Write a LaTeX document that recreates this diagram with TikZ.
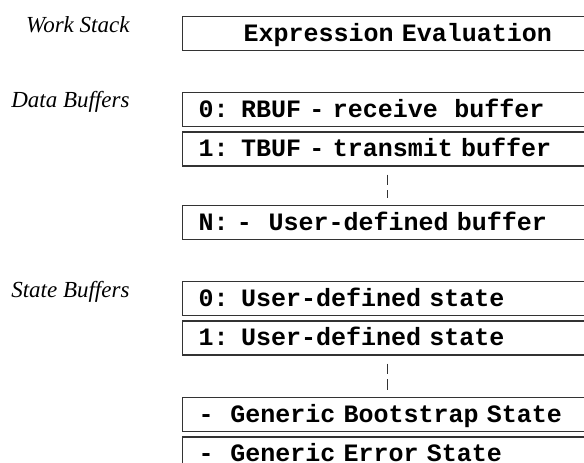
\documentclass[tikz,border=0pt]{standalone}
\usepackage{fontspec}
\setmainfont{Liberation Serif}
\setmonofont{Liberation Mono}
\usetikzlibrary{positioning}
\tikzset{bufbox/.style={draw=black!80, line width=1.3pt, anchor=north west, minimum width=410pt, minimum height=34pt, text width=378pt, inner xsep=16pt, inner ysep=0pt, align=left, text height=15pt, text depth=0pt, font=\fontsize{25}{30}\selectfont\ttfamily\bfseries}}
\tikzset{sect/.style={anchor=base east, font=\fontsize{23}{28}\selectfont\itshape}}
\tikzset{gap/.style={draw=black!80, line width=0.8pt, dash pattern=on 10.5pt off 5pt, shorten <=8pt, shorten >=7pt}}

\begin{document}
\begin{tikzpicture}[x=1pt, y=1pt]
	\useasboundingbox (0,0) rectangle (584,-463);
	\clip (0,0) rectangle (584,-463);
	
	\node[sect] (wslab) at (133,-32){Work Stack};
	\node[sect] (dblab) at (133,-107){Data Buffers};
	\node[sect] (sblab) at (133,-297){State Buffers};
	
	\node[bufbox] (eval) at (182,-16){\hspace*{1.8em}Expression Evaluation};
	
	\node[bufbox] (rbuf) at (182,-92){0: RBUF - receive~~buffer};
	\node[bufbox, below=4pt of rbuf] (tbuf){1: TBUF - transmit buffer};
	\node[bufbox] (nbuf) at (182,-205){N: -~~User-defined buffer};
	
	\node[bufbox] (st0) at (182,-281){0: User-defined state};
	\node[bufbox, below=4pt of st0] (st1){1: User-defined state};
	\node[bufbox] (boot) at (182,-397){-~~Generic Bootstrap State};
	\node[bufbox, below=4pt of boot] (err){-~~Generic Error State};
	
	\draw[gap] (tbuf) -- (nbuf);
	\draw[gap] (st1) -- (boot);
\end{tikzpicture}
\end{document}
